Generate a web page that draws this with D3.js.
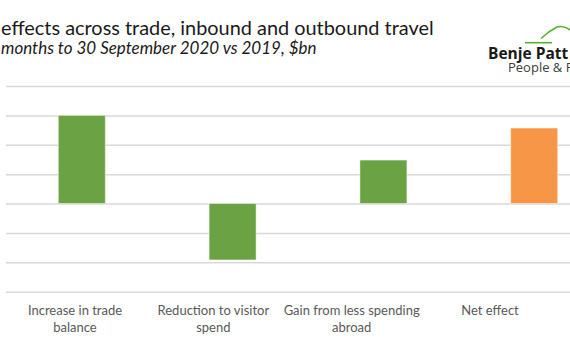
<!DOCTYPE html>
<html><head><meta charset="utf-8">
<script src="https://cdn.jsdelivr.net/npm/d3@7"></script>
<style>
html,body{margin:0;padding:0;background:#fff;}
svg{display:block;}
</style>
</head><body>
<svg id="c" width="570" height="350"></svg>
<script>
const categories = ["Increase in trade balance", "Reduction to visitor spend", "Gain from less spending abroad", "Net effect"];
const labelLines = [["Increase in trade", "balance"], ["Reduction to visitor", "spend"], ["Gain from less spending", "abroad"], ["Net effect"]];
const values = [3.0, -1.92, 1.48, 2.57];
const barColors = ["#6aa244", "#6aa244", "#6aa244", "#f79646"];
const yTicks = [-3, -2, -1, 0, 1, 2, 3, 4];
const titleText = "effects across trade, inbound and outbound travel";
const subtitleText = "months to 30 September 2020 vs 2019, $bn";

const svg = d3.select("#c");
const font = "Lato, 'Open Sans', sans-serif";

const y = d3.scaleLinear().domain([-3, 4]).range([291.7, 86]);
const x = d3.scaleBand().domain(categories).range([6.4, 609.6]).paddingInner(0.688).paddingOuter(0.344);
const xl = d3.scalePoint().domain(categories).range([75, 490]);

// gridlines
const g = svg.append("g").attr("transform", "translate(6,0)")
  .call(d3.axisLeft(y).tickValues(yTicks).tickSize(-600).tickFormat(""));
g.select(".domain").remove();
g.selectAll(".tick line").attr("stroke", "#d9d9d9").attr("stroke-width", 1.5);

// bars
svg.append("g").selectAll("rect").data(values).join("rect")
  .attr("x", (d, i) => x(categories[i]))
  .attr("width", x.bandwidth())
  .attr("y", d => y(Math.max(0, d)))
  .attr("height", d => Math.abs(y(d) - y(0)))
  .attr("fill", (d, i) => barColors[i])
  .attr("stroke", "#ffffff").attr("stroke-opacity", 0.5).attr("stroke-width", 1);

// category labels
const lab = svg.append("g").attr("font-family", font).attr("font-size", 13).attr("fill", "#595959").attr("text-anchor", "middle");
categories.forEach((c, i) => {
  const t = lab.append("text").attr("x", xl(c)).attr("y", 315);
  labelLines[i].forEach((ln, j) => t.append("tspan").attr("x", xl(c)).attr("dy", j === 0 ? 0 : 16.5).text(ln));
});

// title
svg.append("text").attr("x", 1).attr("y", 35).attr("font-family", font).attr("font-size", 19.9)
  .attr("fill", "#1a1a1a").text(titleText);
svg.append("text").attr("x", 1).attr("y", 53.5).attr("font-family", font).attr("font-size", 17)
  .attr("font-style", "italic").attr("fill", "#1a1a1a").text(subtitleText);

// logo
const logo = svg.append("g");
logo.append("path").attr("d", "M525,42.7 L552,42.7").attr("stroke", "#58b030").attr("stroke-width", 1.6).attr("fill", "none");
logo.append("path").attr("d", "M541,38.5 Q549,31 557,27 Q563,25 572,31").attr("stroke", "#58b030").attr("stroke-width", 1.6).attr("fill", "none");
logo.append("text").attr("x", 488).attr("y", 58.5).attr("font-family", "'Open Sans', sans-serif").attr("font-weight", "bold")
  .attr("font-size", 15.5).attr("fill", "#1a1a1a").text("Benje Patt");
logo.append("text").attr("x", 508).attr("y", 72.3).attr("font-family", "'Open Sans', sans-serif")
  .attr("font-size", 13).attr("fill", "#404040").text("People & P");
</script>
</body></html>
